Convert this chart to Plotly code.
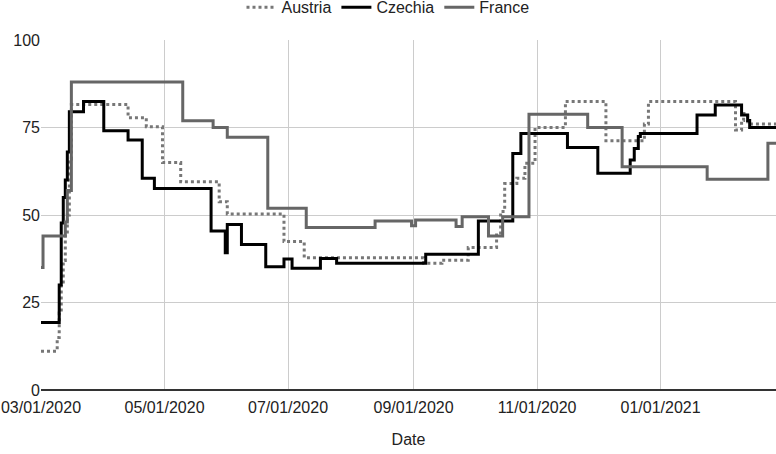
import plotly.graph_objects as go

# Step-change data: value holds from the given date until the next entry
austria_dates = ["2020-03-01", "2020-03-09", "2020-03-10", "2020-03-11", "2020-03-12", "2020-03-13",
                 "2020-03-14", "2020-03-15", "2020-03-16", "2020-04-13", "2020-04-22", "2020-04-30",
                 "2020-05-09", "2020-05-28", "2020-06-01", "2020-06-29", "2020-07-09", "2020-09-06",
                 "2020-09-15", "2020-09-28", "2020-10-12", "2020-10-14", "2020-10-16", "2020-10-22",
                 "2020-10-26", "2020-10-31", "2020-11-15", "2020-12-05", "2020-12-24", "2020-12-26",
                 "2021-02-07", "2021-02-10", "2021-02-11", "2021-02-13", "2021-02-27"]
austria_vals = [11.1, 15, 22, 30, 37, 44,
                50, 66, 81.6, 77.8, 75.2, 65,
                59.5, 53.8, 50.3, 42.4, 37.8, 36.2,
                37.1, 40.7, 44.3, 51, 59, 60.5,
                64.8, 75, 82.4, 71.2, 76, 82.4,
                74.3, 77, 79, 76, 76]

czechia_dates = ["2020-03-01", "2020-03-10", "2020-03-11", "2020-03-12", "2020-03-13", "2020-03-14",
                 "2020-03-15", "2020-03-22", "2020-04-01", "2020-04-13", "2020-04-20", "2020-04-26",
                 "2020-05-24", "2020-05-31", "2020-06-01", "2020-06-08", "2020-06-20", "2020-06-29",
                 "2020-07-03", "2020-07-17", "2020-07-25", "2020-09-07", "2020-10-03", "2020-10-20",
                 "2020-10-24", "2020-11-16", "2020-12-01", "2020-12-17", "2020-12-19", "2020-12-21",
                 "2020-12-22", "2021-01-19", "2021-01-28", "2021-02-10", "2021-02-13", "2021-02-14",
                 "2021-02-27"]
czechia_vals = [19.3, 30, 47.7, 55, 60, 68,
                79.5, 82.4, 74.1, 71.4, 60.5, 57.6,
                45.4, 39.2, 47.3, 41.6, 35.2, 37.4,
                34.8, 37.6, 36.2, 38.8, 48.3, 67.6,
                73.3, 69.3, 61.9, 65.7, 69, 72.4,
                73.3, 78.6, 81.4, 78.6, 77, 75,
                75]

france_dates = ["2020-03-01", "2020-03-02", "2020-03-13", "2020-03-14", "2020-03-16", "2020-05-10",
                "2020-05-25", "2020-06-01", "2020-06-21", "2020-07-10", "2020-08-13", "2020-08-31",
                "2020-09-02", "2020-09-22", "2020-09-25", "2020-10-08", "2020-10-15", "2020-10-28",
                "2020-11-26", "2020-12-13", "2021-01-24", "2021-02-23", "2021-02-27"]
france_vals = [35, 44, 48, 57, 88, 76.9,
               75, 72.2, 51.9, 46.4, 48.3, 46.9,
               48.6, 46.7, 49.5, 44, 49.5, 78.8,
               75, 63.8, 60.2, 70.5, 70.5]

tick_vals = ["2020-03-01", "2020-05-01", "2020-07-01", "2020-09-01", "2020-11-01", "2021-01-01"]
tick_text = ["03/01/2020", "05/01/2020", "07/01/2020", "09/01/2020", "11/01/2020", "01/01/2021"]
y_ticks = [0, 25, 50, 75, 100]

fig = go.Figure()
fig.add_trace(go.Scatter(x=austria_dates, y=austria_vals, name="Austria", mode="lines",
                         line=dict(color="#777777", width=3, dash="dot", shape="hv")))
fig.add_trace(go.Scatter(x=czechia_dates, y=czechia_vals, name="Czechia", mode="lines",
                         line=dict(color="#000000", width=3, shape="hv")))
fig.add_trace(go.Scatter(x=france_dates, y=france_vals, name="France", mode="lines",
                         line=dict(color="#666666", width=3, shape="hv")))

font = dict(family="Liberation Sans, Arial, sans-serif", size=16, color="#222222")

fig.update_layout(
    width=776, height=454,
    margin=dict(l=41, r=0, t=40, b=64, autoexpand=False),
    paper_bgcolor="white", plot_bgcolor="white",
    font=font,
    showlegend=True,
    legend=dict(orientation="h", x=0.5, xanchor="center", xref="container",
                y=0.984, yanchor="middle", yref="container",
                font=font, itemwidth=30, bgcolor="rgba(0,0,0,0)"),
    xaxis=dict(
        type="date", range=["2020-03-01", "2021-02-27"],
        tickvals=tick_vals, ticktext=tick_text, ticklabeloverflow="allow",
        ticklabelstandoff=6,
        showgrid=True, gridcolor="#cccccc", gridwidth=1,
        showline=False, zeroline=False, ticks="",
        title=dict(text="Date", standoff=18, font=font),
        automargin=False,
    ),
    yaxis=dict(
        range=[0, 100], tickvals=y_ticks,
        showgrid=True, gridcolor="#cccccc", gridwidth=1,
        zeroline=True, zerolinecolor="#333333", zerolinewidth=2,
        showline=False, ticks="", automargin=False,
    ),
)

fig.write_html("out.html", config={"displayModeBar": False},
               post_script="document.body.style.margin='0';document.body.style.overflow='hidden';")
